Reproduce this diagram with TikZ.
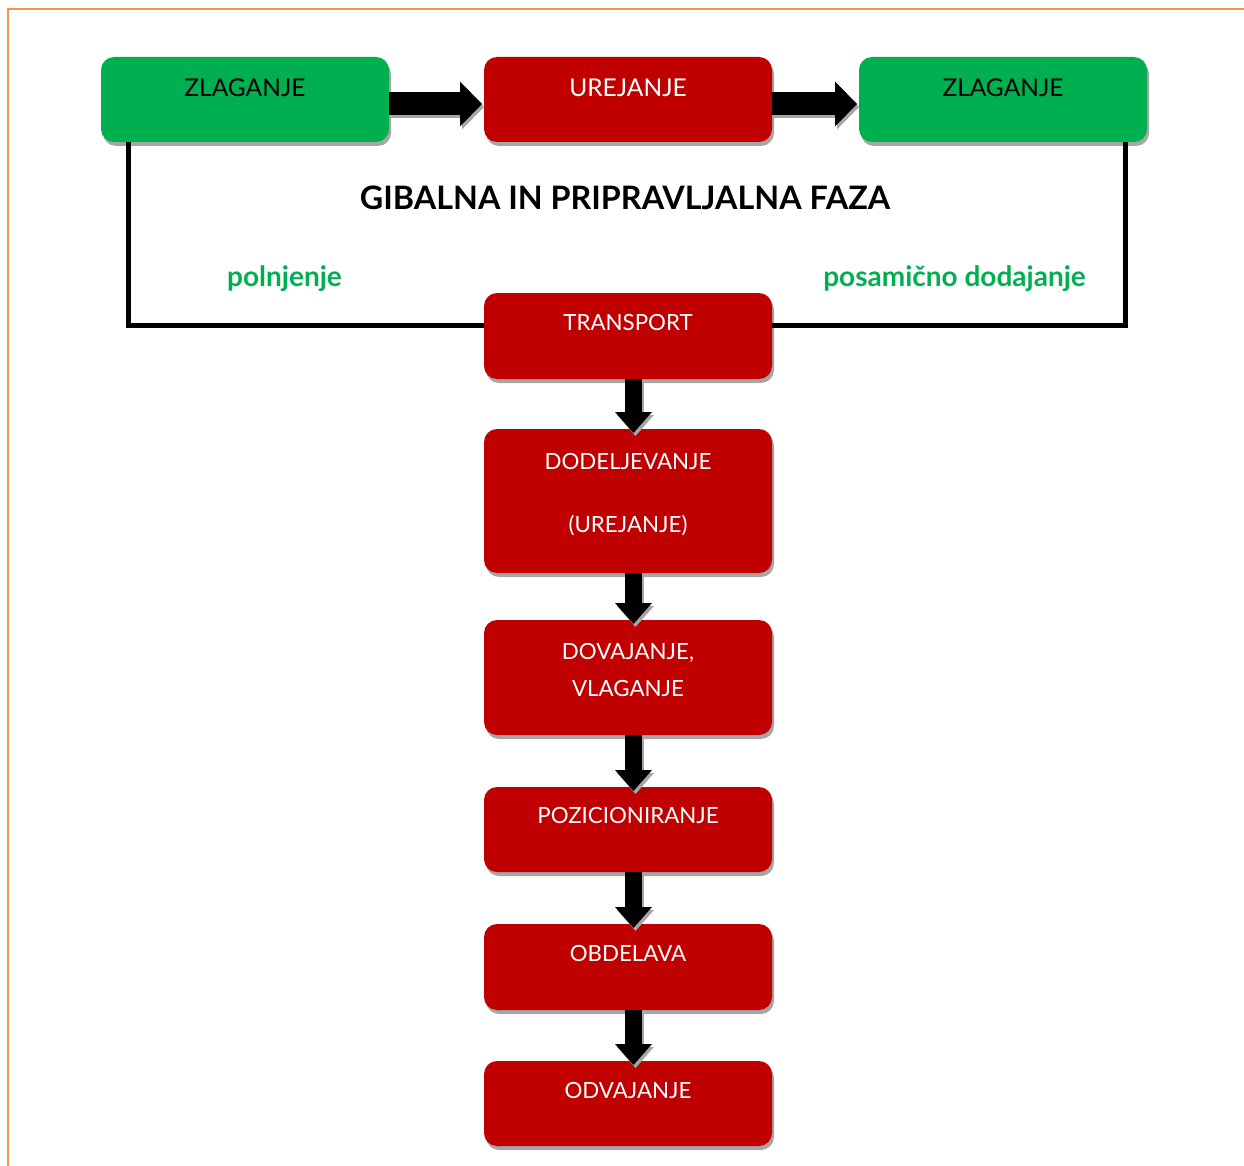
\documentclass[tikz,border=0pt]{standalone}
\usepackage{fontspec}
\setmainfont{Lato}
\usetikzlibrary{arrows.meta,shadows}
\definecolor{boxgreen}{HTML}{00B050}
\definecolor{boxred}{HTML}{C00000}
\definecolor{frameorange}{HTML}{F79646}
% #1 box height, #2 first baseline, #3 baselineskip, #4 font size, #5 text
\newcommand{\boxtxt}[5]{\parbox[t][#1][t]{288pt}{\fontsize{#4}{#3}\selectfont\centering\rule{0pt}{#2}#5\par}}
\tikzset{
  procbox/.style={rounded corners=13pt, inner sep=0pt, outer sep=0pt, anchor=north west,
    drop shadow={shadow xshift=2pt, shadow yshift=-4pt, fill=black!35, opacity=1}},
  greenbox/.style={procbox, fill=boxgreen, text=black},
  redbox/.style={procbox, fill=boxred, text=white},
  harrow/.style={line width=23pt, -{Triangle[length=22pt,width=45pt,line width=0pt]}},
  varrow/.style={line width=17pt, -{Triangle[length=21pt,width=37pt,line width=0pt]}},
  arrshadow/.style={draw=black!35, transform canvas={shift={(2pt,-3pt)}}},
  bracket/.style={line width=5pt, black, line join=miter},
  greenlabel/.style={anchor=base, text=boxgreen, font=\bfseries\fontsize{28pt}{33pt}\selectfont}
}
\begin{document}
\begin{tikzpicture}[x=1pt, y=-1pt]
\useasboundingbox (0,0) rectangle (1244,1166);
\draw[frameorange, line width=1.3pt] (8,1166) -- (8,9) -- (1244,9);

% top row
\node[greenbox] (zlA) at (101,57) {\boxtxt{85pt}{40pt}{30pt}{24.5pt}{ZLAGANJE}};
\node[redbox] (ur) at (484,57) {\boxtxt{85pt}{40pt}{30pt}{24.5pt}{UREJANJE}};
\node[greenbox] (zlB) at (859,57) {\boxtxt{85pt}{40pt}{30pt}{24.5pt}{ZLAGANJE}};

% vertical chain
\node[redbox] (tr) at (484,293) {\boxtxt{86pt}{37pt}{28pt}{22.3pt}{TRANSPORT}};
\node[redbox] (dod) at (484,429) {\boxtxt{144pt}{40pt}{63pt}{22.3pt}{DODELJEVANJE\\(UREJANJE)}};
\node[redbox] (dov) at (484,620) {\boxtxt{115pt}{39pt}{37pt}{22.3pt}{DOVAJANJE,\\VLAGANJE}};
\node[redbox] (poz) at (484,787) {\boxtxt{85pt}{36pt}{28pt}{22.3pt}{POZICIONIRANJE}};
\node[redbox] (obd) at (484,924) {\boxtxt{86pt}{37pt}{28pt}{22.3pt}{OBDELAVA}};
\node[redbox] (odv) at (484,1061) {\boxtxt{85pt}{37pt}{28pt}{22.3pt}{ODVAJANJE}};

% title and labels
\node[anchor=base, font=\bfseries\fontsize{32.3pt}{38pt}\selectfont] (title) at (625,210) {GIBALNA IN PRIPRAVLJALNA FAZA};
\node[greenlabel] (pol) at (284.5,286) {polnjenje};
\node[greenlabel] (pos) at (954.5,286) {posamično dodajanje};

% bracket
\draw[bracket] ([xshift=27pt]zlA.south west) |- ([yshift=11pt]tr.west);
\draw[bracket] ([yshift=11pt]tr.east) -| ([xshift=-22pt]zlB.south east);

% horizontal arrows
\foreach \a/\b in {zlA/ur, ur/zlB} {
  \draw[harrow, arrshadow] ([yshift=-4.5pt]\a.east) -- ([xshift=-2pt,yshift=-4.5pt]\b.west);
  \draw[harrow] ([yshift=-4.5pt]\a.east) -- ([xshift=-2pt,yshift=-4.5pt]\b.west);
}
% vertical arrows
\foreach \a/\b in {tr/dod, dod/dov, dov/poz, poz/obd, obd/odv} {
  \draw[varrow, arrshadow] ([xshift=5.5pt]\a.south) -- ([xshift=5.5pt,yshift=-4pt]\b.north);
  \draw[varrow] ([xshift=5.5pt]\a.south) -- ([xshift=5.5pt,yshift=-4pt]\b.north);
}
\end{tikzpicture}
\end{document}
